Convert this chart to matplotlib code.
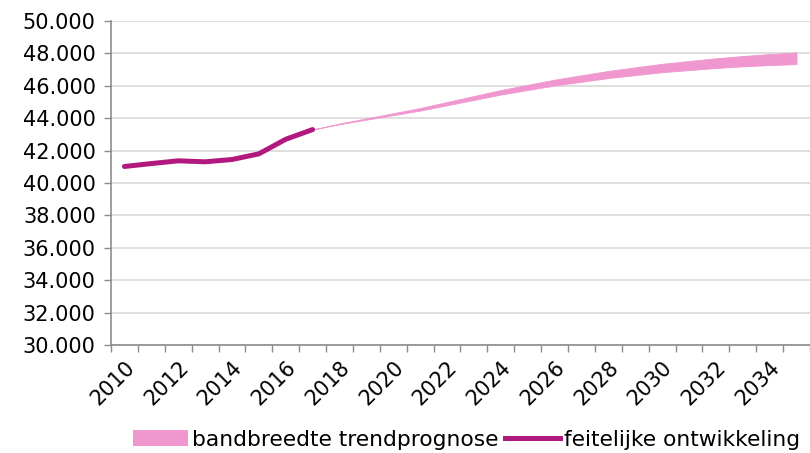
import matplotlib.pyplot as plt
from matplotlib.patches import Patch
from matplotlib.lines import Line2D

# data
years = list(range(2010, 2036))
actual_years = [2010, 2011, 2012, 2013, 2014, 2015, 2016, 2017]
actual = [41020, 41200, 41370, 41310, 41450, 41800, 42700, 43300]

band_years = list(range(2017, 2036))
band_low = [43300, 43630, 43910, 44190, 44470, 44800, 45130, 45460, 45740, 46020,
            46250, 46480, 46660, 46840, 46970, 47100, 47200, 47280, 47340]
band_high = [43300, 43670, 43990, 44310, 44630, 45000, 45370, 45740, 46060, 46380,
             46650, 46920, 47140, 47360, 47530, 47700, 47840, 47960, 48060]

band_color = '#F197D0'
line_color = '#B2197F'
axis_color = '#8C8C8C'

plt.rcParams['font.family'] = ['DejaVu Sans']
fs = 15

fig = plt.figure(figsize=(8.1, 4.53), dpi=100)
ax = fig.add_axes([0.137, 0.2384, 0.863, 0.7152])

idx = {y: i for i, y in enumerate(years)}
ax.fill_between([idx[y] for y in band_years], band_low, band_high,
                color=band_color, linewidth=0.6, edgecolor=band_color)
ax.plot([idx[y] for y in actual_years], actual, color=line_color,
        linewidth=3.6, solid_capstyle='round', solid_joinstyle='round')

ax.set_xlim(-0.5, len(years) - 0.5)
ax.set_ylim(30000, 50000)
yt = list(range(30000, 50001, 2000))
ax.set_yticks(yt)
ax.set_yticklabels([f'{v:,.0f}'.replace(',', '.') for v in yt], fontsize=fs)
ax.grid(axis='y', color='#DCDCDC', linewidth=1.3)
ax.set_axisbelow(True)

ax.set_xticks([i - 0.5 for i in range(len(years) + 1)], minor=False)
ax.set_xticklabels([])
ax.set_xticks([i for i in range(0, len(years), 2)], minor=True)
ax.set_xticklabels([str(years[i]) for i in range(0, len(years), 2)], minor=True,
                   rotation=45, ha='right', rotation_mode='anchor', fontsize=fs)
ax.tick_params(axis='x', which='minor', length=0, pad=9)
ax.tick_params(axis='x', which='major', length=5, color=axis_color, width=1)
ax.tick_params(axis='y', length=5, color=axis_color, width=1, pad=6)

for s in ['top', 'right']:
    ax.spines[s].set_visible(False)
for s in ['left', 'bottom']:
    ax.spines[s].set_color(axis_color)
    ax.spines[s].set_linewidth(1.2)

handles = [Patch(facecolor=band_color, edgecolor='none'),
           Line2D([0], [0], color=line_color, linewidth=3.6)]
fig.legend(handles, ['bandbreedte trendprognose', 'feitelijke ontwikkeling'],
           loc='lower center', bbox_to_anchor=(0.576, -0.036), ncol=2, frameon=False,
           fontsize=15.7, handlelength=2.5, handleheight=0.75, handletextpad=0.2,
           columnspacing=0.3)

fig.savefig('out.png', dpi=100)
